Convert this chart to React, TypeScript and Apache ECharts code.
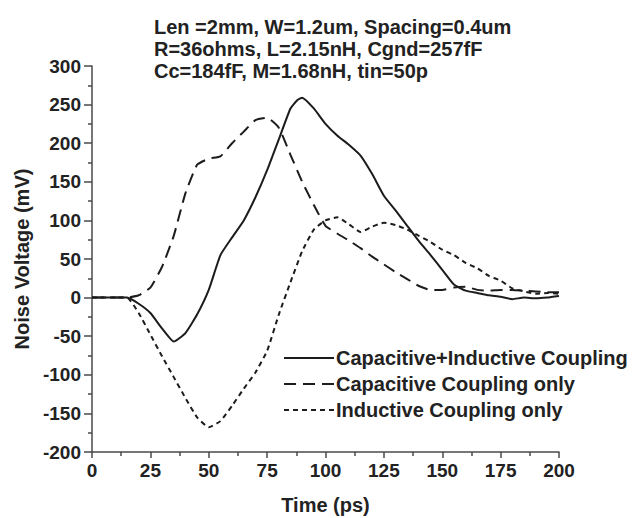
import React, { useEffect, useRef } from "react";
import * as echarts from "echarts";

const titleLines = [
  "Len =2mm, W=1.2um, Spacing=0.4um",
  "R=36ohms, L=2.15nH, Cgnd=257fF",
  "Cc=184fF, M=1.68nH, tin=50p",
];

const seriesNames = [
  "Capacitive+Inductive Coupling",
  "Capacitive Coupling only",
  "Inductive Coupling only",
];

// time (ps), noise voltage (mV)
const bothCoupling: [number, number][] = [
  [0, 0], [10, 0], [15, 0], [20, -8], [25, -20], [30, -40], [35, -57], [40, -46],
  [45, -22], [50, 10], [55, 55], [60, 78], [65, 100], [70, 130], [75, 165], [80, 205],
  [85, 245], [88, 256], [90, 259], [95, 245], [100, 225], [105, 210], [110, 198],
  [115, 184], [120, 160], [125, 132], [130, 113], [135, 93], [140, 73], [145, 55],
  [150, 36], [155, 17], [160, 9], [165, 6], [170, 3], [175, 1], [180, -2], [185, 0],
  [190, -1], [195, 0], [200, 2],
];

const capacitiveOnly: [number, number][] = [
  [0, 0], [10, 0], [15, 0], [20, 3], [25, 13], [30, 40], [35, 80], [40, 135],
  [45, 172], [50, 180], [55, 183], [60, 200], [65, 215], [70, 230], [75, 233],
  [80, 220], [85, 185], [90, 150], [95, 120], [100, 93], [105, 83], [110, 74],
  [115, 64], [120, 53], [125, 43], [130, 33], [135, 24], [140, 15], [145, 10],
  [150, 10], [155, 13], [160, 14], [165, 10], [170, 9], [175, 10], [180, 10],
  [185, 9], [190, 8], [195, 7], [200, 7],
];

const inductiveOnly: [number, number][] = [
  [0, 0], [10, 0], [15, 0], [20, -20], [25, -48], [30, -76], [35, -103], [40, -130],
  [45, -155], [50, -168], [55, -160], [60, -140], [65, -118], [70, -97], [75, -69],
  [80, -22], [85, 20], [90, 60], [95, 88], [100, 100], [105, 104], [110, 95],
  [115, 85], [120, 92], [125, 97], [130, 94], [135, 88], [140, 80], [145, 72],
  [150, 62], [155, 55], [160, 45], [165, 38], [170, 28], [175, 22], [180, 12],
  [185, 8], [190, 5], [195, 6], [200, 5],
];

const FONT = "'Liberation Sans', Arial, Helvetica, sans-serif";
const INK = "#1c1c1c";
const AXIS = "#4a4a4a";

export default function App() {
  const ref = useRef<HTMLDivElement>(null);
  useEffect(() => {
    if (!ref.current) return;
    const chart = echarts.init(ref.current, undefined, { renderer: "svg" });
    const mkSeries = (name: string, data: [number, number][], type: any) => ({
      name,
      type: "line",
      data,
      symbol: "none",
      smooth: 0.15,
      lineStyle: { color: INK, width: 2, type },
      itemStyle: { color: INK },
    });
    chart.setOption({
      animation: false,
      backgroundColor: "#ffffff",
      textStyle: { fontFamily: FONT },
      title: {
        text: titleLines.join("\n"),
        left: 149,
        top: 11,
        textStyle: {
          fontFamily: FONT,
          fontSize: 20,
          fontWeight: "bold",
          color: "#222",
          lineHeight: 22,
        },
      },
      legend: {
        orient: "vertical",
        left: 278,
        top: 343,
        itemWidth: 50,
        itemHeight: 14,
        itemGap: 6,
        data: seriesNames,
        itemStyle: { opacity: 0 },
        textStyle: {
          fontFamily: FONT,
          fontSize: 20,
          fontWeight: "bold",
          color: "#222",
          padding: [0, 0, 0, -3],
        },
      },
      grid: {
        left: 92,
        right: 78,
        top: 66,
        bottom: 66,
        outerBoundsMode: "none",
        containLabel: false,
      },
      xAxis: {
        type: "value",
        min: 0,
        max: 200,
        interval: 25,
        name: "Time (ps)",
        nameLocation: "middle",
        nameGap: 43,
        nameTextStyle: { fontFamily: FONT, fontSize: 20, fontWeight: "bold", color: "#222" },
        axisLine: { show: true, onZero: false, lineStyle: { color: AXIS, width: 1.5 } },
        axisTick: { show: true, inside: false, length: 6, lineStyle: { color: AXIS, width: 1.5 } },
        minorTick: { show: true, splitNumber: 2, length: 4, lineStyle: { color: AXIS, width: 1.5 } },
        axisLabel: { fontFamily: FONT, fontSize: 19, fontWeight: "bold", color: "#222", margin: 9 },
        splitLine: { show: false },
      },
      yAxis: {
        type: "value",
        min: -200,
        max: 300,
        interval: 50,
        name: "Noise Voltage (mV)",
        nameLocation: "middle",
        nameRotate: 90,
        nameGap: 58,
        nameTextStyle: { fontFamily: FONT, fontSize: 20, fontWeight: "bold", color: "#222" },
        axisLine: { show: true, onZero: false, lineStyle: { color: AXIS, width: 1.5 } },
        axisTick: { show: true, inside: false, length: 8, lineStyle: { color: AXIS, width: 1.5 } },
        minorTick: { show: true, splitNumber: 2, length: 4, lineStyle: { color: AXIS, width: 1.5 } },
        axisLabel: { fontFamily: FONT, fontSize: 19, fontWeight: "bold", color: "#222", margin: 11 },
        splitLine: { show: false },
      },
      series: [
        mkSeries(seriesNames[0], bothCoupling, "solid"),
        mkSeries(seriesNames[1], capacitiveOnly, [12, 7]),
        mkSeries(seriesNames[2], inductiveOnly, [5, 4]),
      ],
    });
    return () => chart.dispose();
  }, []);
  return <div ref={ref} style={{ width: 637, height: 518, position: "absolute", left: 0, top: 0 }} />;
}
